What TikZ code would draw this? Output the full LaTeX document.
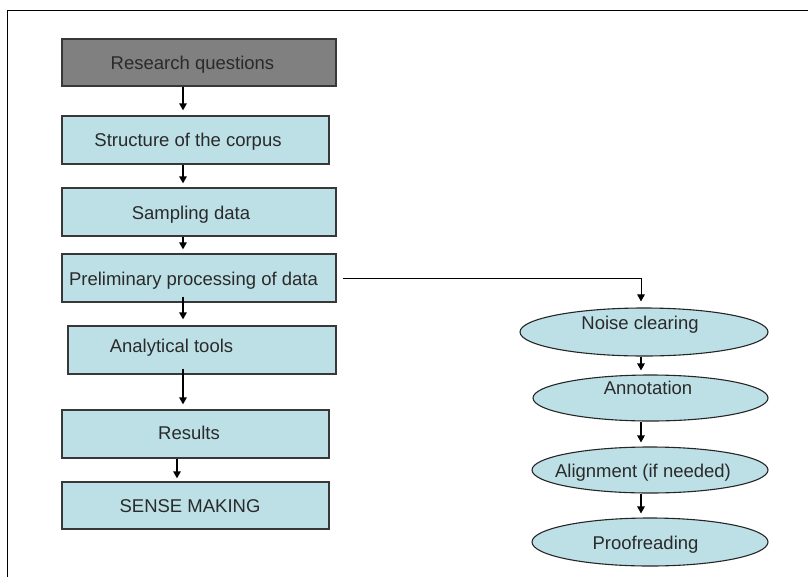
\documentclass[tikz,border=0pt]{standalone}
\usepackage{fontspec}
\setmainfont{Liberation Sans}
\usetikzlibrary{arrows.meta,shapes.geometric}
\definecolor{boxfill}{HTML}{BCE0E6}
\definecolor{headfill}{HTML}{808080}
\definecolor{ink}{HTML}{2A2A2A}
\tikzset{
  stepbox/.style={draw=black!78, line width=1.3pt, rectangle, inner sep=0pt},
  headbox/.style={stepbox, fill=headfill},
  bodybox/.style={stepbox, fill=boxfill},
  oval/.style={draw=black!85, line width=1.1pt, ellipse, inner sep=0pt, fill=boxfill},
  txt/.style={anchor=base, inner sep=0pt, text=ink, font=\fontsize{18.5}{21}\selectfont},
  arr/.style={draw=black, line width=1.3pt, -{Triangle[length=7pt,width=7.5pt]}},
}
\begin{document}
\begin{tikzpicture}[x=1pt,y=-1pt]
\useasboundingbox (0,0) rectangle (808,576);
% outer frame (open to the right and bottom)
\draw[line width=1pt] (7,590) -- (7,10) -- (820,10);

% main column of steps
\node[headbox, minimum width=274pt, minimum height=47pt] (rq) at (199,62.5) {};
\node[bodybox, minimum width=267pt, minimum height=48pt] (sc) at (195.5,140) {};
\node[bodybox, minimum width=274pt, minimum height=48pt] (sd) at (199,212) {};
\node[bodybox, minimum width=274pt, minimum height=48pt] (pp) at (199,278) {};
\node[bodybox, minimum width=268pt, minimum height=48pt] (at) at (202,350) {};
\node[bodybox, minimum width=267pt, minimum height=48pt] (rs) at (195.5,434) {};
\node[bodybox, minimum width=267pt, minimum height=47pt] (sm) at (195.5,505.5) {};

\node[txt] at (192.5,69.5) {Research questions};
\node[txt] at (188,146.5) {Structure of the corpus};
\node[txt] at (191,219.5) {Sampling data};
\node[txt] at (193.5,285) {Preliminary processing of data};
\node[txt] at (171.5,352.5) {Analytical tools};
\node[txt] at (189,439.5) {Results};
\node[txt] at (190,512.5) {SENSE MAKING};

% processing sub-steps
\node[oval, minimum width=248pt, minimum height=48pt] (nc) at (644,332) {};
\node[oval, minimum width=235pt, minimum height=46pt] (an) at (650.5,398) {};
\node[oval, minimum width=236pt, minimum height=46pt] (al) at (650,470) {};
\node[oval, minimum width=236pt, minimum height=48pt] (pr) at (650,542) {};

\node[txt] at (640,329.5) {Noise clearing};
\node[txt] at (648,394.5) {Annotation};
\node[txt] at (643,477.5) {Alignment (if needed)};
\node[txt] at (645.5,549.5) {Proofreading};

% connector lanes
\coordinate (lane) at (183,0);
\coordinate (lane2) at (177,0);
\coordinate (side) at (641,0);

\draw[arr, shorten >=5pt] (rq.south -| lane) -- (sc.north -| lane);
\draw[arr, shorten >=4pt] (sc.south -| lane) -- (sd.north -| lane);
\draw[arr, shorten >=4pt] (sd.south -| lane) -- (pp.north -| lane);
\draw[arr, shorten <=-6pt, shorten >=6pt] (pp.south -| lane) -- (at.north -| lane);
\draw[arr, shorten <=-6pt, shorten >=5pt] (at.south -| lane) -- (rs.north -| lane);
\draw[arr, shorten >=3pt] (rs.south -| lane2) -- (sm.north -| lane2);

\draw[line width=1pt, -{Triangle[length=7pt,width=7.5pt]}, shorten >=6pt]
  ([xshift=6pt]pp.east) -| (nc.north -| side);
\draw[arr, shorten >=4pt] (nc.south -| side) -- (an.north -| side);
\draw[arr, shorten >=4pt] (an.south -| side) -- (al.north -| side);
\draw[arr, shorten >=4pt] (al.south -| side) -- (pr.north -| side);
\end{tikzpicture}
\end{document}
